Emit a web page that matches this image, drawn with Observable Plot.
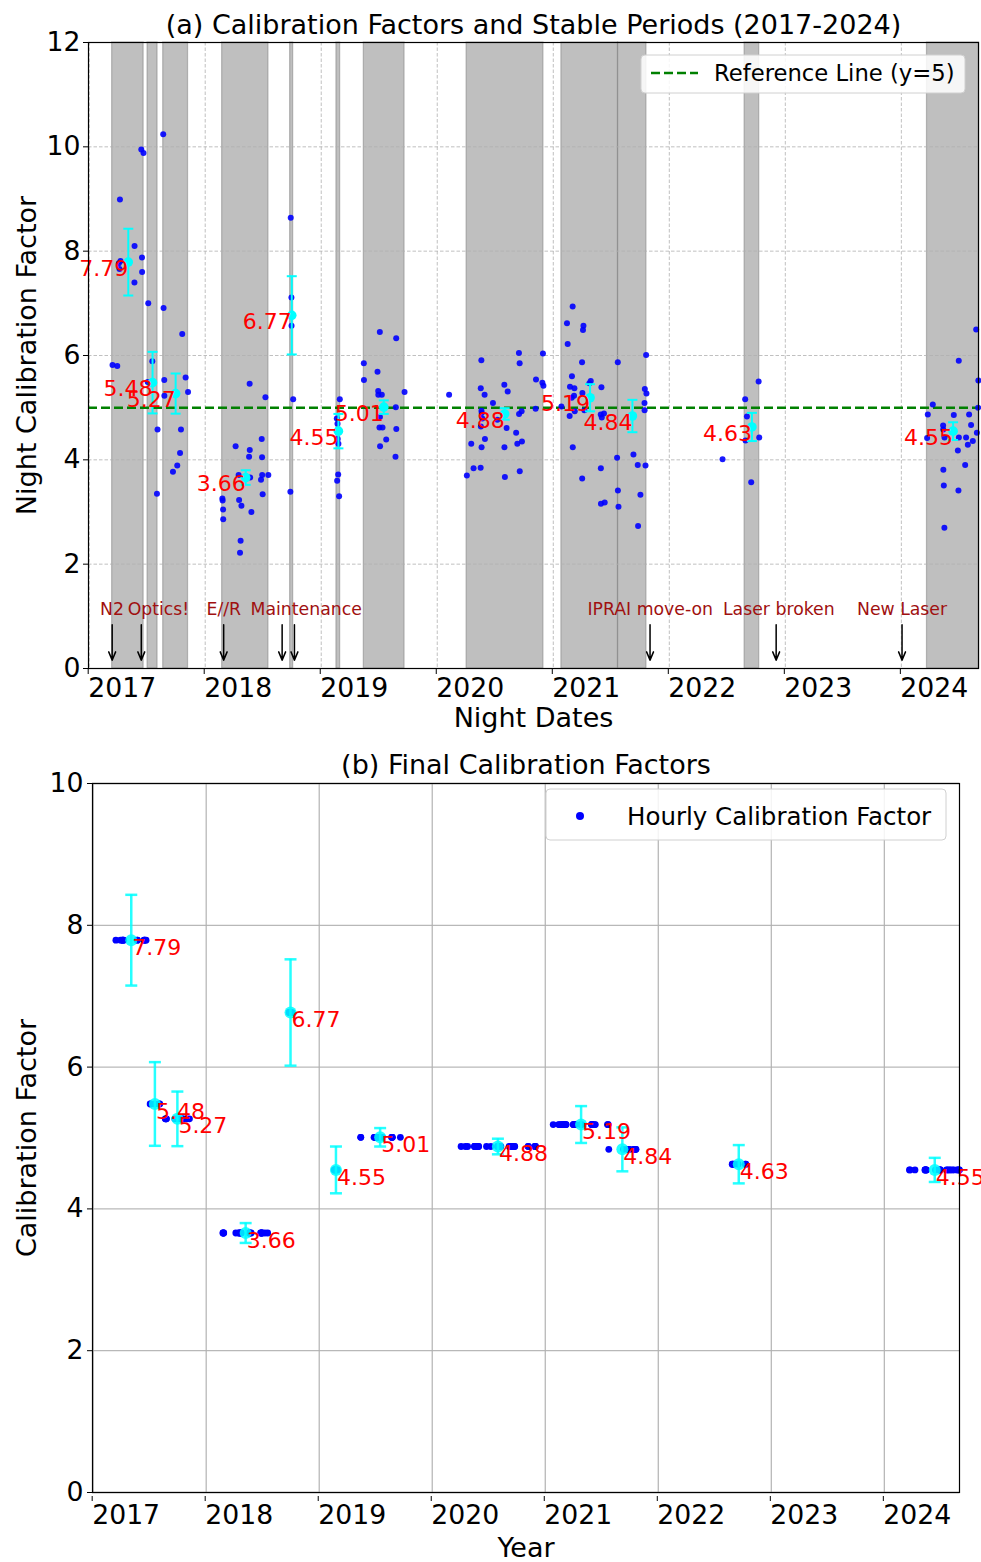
<!DOCTYPE html>
<html><head><meta charset="utf-8">
<script src="https://cdn.jsdelivr.net/npm/d3@7"></script>
<script src="https://cdn.jsdelivr.net/npm/@observablehq/plot@0.6"></script>
<style>
body{margin:0;background:#fff;font-family:"DejaVu Sans",sans-serif;}
#wrap{width:981px;}
svg{display:block;}
</style></head><body><div id="wrap"></div>
<script>
// ---------- DATA ----------
// nightly calibration factors (decimal year, value)
const nightYear = [
 2017.201,2017.242,2017.256,2017.270,2017.261,2017.265,2017.391,2017.390,2017.449,2017.468,2017.455,2017.456,
 2017.509,2017.544,2017.504,2017.584,2017.589,2017.638,2017.641,2017.647,2017.648,2017.722,2017.759,2017.783,
 2017.791,2017.802,2017.831,2017.852,
 2018.148,2018.150,2018.154,2018.155,2018.262,2018.288,2018.292,2018.312,2018.305,2018.300,2018.378,2018.383,
 2018.384,2018.387,2018.398,2018.481,2018.487,2018.490,2018.491,2018.495,2018.519,2018.544,2018.734,2018.737,
 2018.743,2018.744,2018.758,
 2019.134,2019.140,2019.142,2019.148,2019.146,2019.137,2019.154,2019.160,
 2019.367,2019.368,2019.485,2019.491,2019.492,2019.505,2019.506,2019.502,2019.528,2019.522,2019.507,2019.560,
 2019.643,2019.646,2019.647,2019.640,2019.718,
 2020.102,2020.255,2020.293,2020.313,2020.374,2020.375,2020.376,2020.380,2020.381,2020.382,2020.383,2020.388,
 2020.408,2020.411,2020.480,2020.518,2020.578,2020.579,2020.583,2020.598,2020.607,2020.680,2020.690,2020.704,
 2020.705,2020.710,2020.711,2020.727,2020.730,2020.848,2020.851,2020.906,2020.911,2020.915,
 2021.070,2021.118,2021.124,2021.141,2021.144,2021.159,2021.161,2021.167,2021.168,2021.179,2021.182,2021.185,
 2021.248,2021.249,2021.251,2021.256,2021.260,2021.268,2021.311,2021.323,2021.409,2021.410,2021.411,2021.415,
 2021.418,2021.437,2021.443,2021.550,2021.556,2021.557,2021.562,2021.691,2021.728,2021.731,2021.751,2021.786,
 2021.787,2021.789,2021.795,2021.800,2021.803,
 2022.459,2022.654,2022.657,2022.669,2022.706,2022.770,2022.775,
 2024.222,2024.228,2024.271,2024.360,2024.361,2024.362,2024.366,2024.371,2024.372,2024.452,2024.487,2024.492,
 2024.495,2024.496,2024.550,2024.558,2024.573,2024.584,2024.601,2024.616,2024.645,2024.651,2024.662,2024.664
];
const nightValue = [
 5.82,5.80,7.77,7.81,7.66,8.99,8.10,7.40,9.95,9.88,7.88,7.60,
 7.00,5.89,5.49,3.35,4.58,10.24,6.91,5.53,5.23,3.77,3.89,4.13,
 4.58,6.41,5.58,5.30,
 3.26,3.22,3.05,2.86,4.26,3.71,3.23,3.12,2.45,2.22,4.06,5.46,
 4.19,3.66,3.00,3.62,4.40,4.05,3.71,3.34,5.20,3.71,3.39,8.64,
 7.11,6.57,5.16,
 4.79,4.69,4.40,4.31,3.72,3.60,3.30,5.16,
 5.85,5.53,5.69,5.32,5.25,6.45,4.82,4.62,4.62,5.25,4.26,4.39,
 5.01,6.33,4.59,4.06,5.30,
 5.25,3.70,4.31,3.84,3.85,5.37,4.64,5.91,4.94,4.24,4.90,4.79,
 5.25,4.40,5.09,4.77,5.44,4.24,3.67,4.61,5.31,4.52,4.31,6.05,
 4.88,5.85,3.78,4.93,4.35,4.98,5.54,5.48,6.04,5.42,
 5.02,6.62,6.22,4.84,5.40,5.19,5.60,6.94,4.24,5.23,5.37,4.93,
 5.87,3.64,5.28,6.49,6.57,4.95,5.47,5.51,4.87,3.84,3.16,5.39,
 4.81,4.89,3.18,4.04,5.87,3.41,3.10,4.10,3.90,2.73,3.33,5.09,
 4.95,5.36,3.89,6.01,5.27,
 4.01,5.16,4.37,4.83,3.57,5.50,4.43,
 4.42,4.87,5.06,4.66,4.58,3.81,3.51,2.70,4.43,4.86,4.18,3.41,
 5.90,4.43,3.90,4.43,4.29,4.87,4.67,4.36,6.50,4.52,5.00,5.52
];

// stable periods
const periodStart = [2017.198,2017.503,2017.638,2018.146,2018.732,2019.131,2019.367,2020.253,2021.070,2021.558,2022.649,2024.221];
const periodEnd   = [2017.469,2017.589,2017.852,2018.545,2018.758,2019.163,2019.718,2020.915,2021.558,2021.803,2022.775,2024.670];
const periodMid   = [2017.337,2017.546,2017.745,2018.349,2018.746,2019.148,2019.539,2020.581,2021.317,2021.682,2022.712,2024.446];
const periodMean  = [7.79,5.48,5.27,3.66,6.77,4.55,5.01,4.88,5.19,4.84,4.63,4.55];
const periodStd   = [0.64,0.59,0.385,0.14,0.75,0.33,0.13,0.11,0.26,0.31,0.27,0.17];

// events
const eventText  = ["N2","Optics!","E//R","Maintenance","IPRAI move-on","Laser broken","New Laser"];
const eventTextX = [2017.196,2017.597,2018.160,2018.870,2021.836,2022.944,2024.006];
const arrowX     = [2017.198,2017.449,2018.159,2018.663,2018.769,2021.834,2022.921,2024.006];

const years = [2017,2018,2019,2020,2021,2022,2023,2024];
const refLine = 5;

// ---------- TABLES ----------
const nights = nightYear.map((t,i)=>({t, v: nightValue[i]}));
const periods = periodMean.map((m,i)=>({start: periodStart[i], end: periodEnd[i], mid: periodMid[i], mean: m, std: periodStd[i], label: m.toFixed(2)}));
const hourly = [];
nights.forEach(n=>{
  const p = periods.find(p=> n.t >= p.start && n.t <= p.end);
  if (p) hourly.push({t: n.t, v: p.mean});
});
const events = eventText.map((s,i)=>({s, x: eventTextX[i]}));
const arrows = arrowX.map(x=>({x}));

const FONT = "DejaVu Sans";
const capSymbol = () => ({ draw(ctx, size){ const r = Math.sqrt(size/Math.PI); ctx.moveTo(-r,0); ctx.lineTo(r,0);} });
const xDomain = [2016.994, 2024.665];

// ---------- TOP PANEL ----------
const chartA = Plot.plot({
  width: 981, height: 735,
  marginTop: 42, marginBottom: 67, marginLeft: 88, marginRight: 3,
  style: {fontFamily: FONT, background: "white", overflow: "visible"},
  x: {domain: xDomain},
  y: {domain: [0, 12]},
  marks: [
    Plot.rectY(periods, {x1: "start", x2: "end", y1: 0, y2: 12, fill: "#808080", fillOpacity: 0.5, stroke: "#808080", strokeOpacity: 0.5, strokeWidth: 1.2}),
    Plot.gridX(years, {stroke: "#b0b0b0", strokeOpacity: 0.8, strokeDasharray: "3.5,2", strokeWidth: 1}),
    Plot.gridY([2,4,6,8,10], {stroke: "#b0b0b0", strokeOpacity: 0.8, strokeDasharray: "3.5,2", strokeWidth: 1}),
    Plot.ruleY([refLine], {stroke: "green", strokeWidth: 2.5, strokeDasharray: "9,4"}),
    Plot.dot(nights, {x: "t", y: "v", r: 3, fill: "blue", fillOpacity: 0.9, stroke: "none"}),
    Plot.ruleX(periods, {x: "mid", y1: d=>d.mean-d.std, y2: d=>d.mean+d.std, stroke: "cyan", strokeWidth: 2}),
    Plot.dot(periods, {x: "mid", y: d=>d.mean+d.std, symbol: capSymbol(), r: 5, stroke: "cyan", strokeWidth: 2, fill: "none"}),
    Plot.dot(periods, {x: "mid", y: d=>d.mean-d.std, symbol: capSymbol(), r: 5, stroke: "cyan", strokeWidth: 2, fill: "none"}),
    Plot.dot(periods, {x: "mid", y: "mean", r: 4.8, fill: "cyan", stroke: "none"}),
    Plot.text(periods, {x: "mid", y: "mean", text: "label", fill: "red", fontSize: 22, textAnchor: "end", lineAnchor: "top", dy: -2}),
    Plot.arrow(arrows, {x1: "x", x2: "x", y1: 0.84, y2: 0.16, stroke: "black", strokeWidth: 1.5, headLength: 9, headAngle: 45}),
    Plot.text(events, {x: "x", y: 1.13, text: "s", fill: "#a01010", fontSize: 17.3}),
    Plot.frame({stroke: "black", strokeWidth: 1.2}),
    Plot.axisX({ticks: years, tickFormat: d=>String(d), tickSize: 5, fontSize: 26.7, textAnchor: "start", dx: -1, dy: 1, label: null}),
    Plot.axisY({ticks: [0,2,4,6,8,10,12], tickSize: 5, tickPadding: 3, fontSize: 26.7, label: null}),
    Plot.text(["(a) Calibration Factors and Stable Periods (2017-2024)"], {frameAnchor: "top", lineAnchor: "middle", dy: -17, fontSize: 27, fill: "black"}),
    Plot.text(["Night Dates"], {frameAnchor: "bottom", lineAnchor: "middle", dy: 50, fontSize: 27, fill: "black"}),
    Plot.text(["Night Calibration Factor"], {frameAnchor: "left", textAnchor: "middle", lineAnchor: "middle", dx: -61, rotate: -90, fontSize: 27, fill: "black"})
  ]
});

// ---------- BOTTOM PANEL ----------
const chartB = Plot.plot({
  width: 981, height: 827,
  marginTop: 48, marginBottom: 70, marginLeft: 92, marginRight: 22,
  style: {fontFamily: FONT, background: "white", overflow: "visible"},
  x: {domain: xDomain},
  y: {domain: [0, 10]},
  marks: [
    Plot.gridX(years, {stroke: "#b0b0b0", strokeOpacity: 0.9, strokeWidth: 1.3}),
    Plot.gridY([0,2,4,6,8,10], {stroke: "#b0b0b0", strokeOpacity: 0.9, strokeWidth: 1.3}),
    Plot.dot(hourly, {x: "t", y: "v", r: 3.4, fill: "blue", stroke: "none"}),
    Plot.ruleX(periods, {x: "mid", y1: d=>d.mean-d.std, y2: d=>d.mean+d.std, stroke: "cyan", strokeWidth: 2.5, strokeOpacity: 0.85}),
    Plot.dot(periods, {x: "mid", y: d=>d.mean+d.std, symbol: capSymbol(), r: 6, stroke: "cyan", strokeOpacity: 0.85, strokeWidth: 2.5, fill: "none"}),
    Plot.dot(periods, {x: "mid", y: d=>d.mean-d.std, symbol: capSymbol(), r: 6, stroke: "cyan", strokeOpacity: 0.85, strokeWidth: 2.5, fill: "none"}),
    Plot.dot(periods, {x: "mid", y: "mean", r: 6, fill: "cyan", fillOpacity: 0.85, stroke: "none"}),
    Plot.text(periods, {x: "mid", y: "mean", text: "label", fill: "red", fontSize: 22, textAnchor: "start", lineAnchor: "top", dx: 1, dy: -1}),
    Plot.frame({stroke: "black", strokeWidth: 1.2}),
    Plot.axisX({ticks: years, tickFormat: d=>String(d), tickSize: 5, fontSize: 26.7, textAnchor: "start", dx: -1, dy: 4, label: null}),
    Plot.axisY({ticks: [0,2,4,6,8,10], tickSize: 5, tickPadding: 4, fontSize: 26.7, label: null}),
    Plot.text(["(b) Final Calibration Factors"], {frameAnchor: "top", lineAnchor: "middle", dy: -18, fontSize: 27, fill: "black"}),
    Plot.text(["Year"], {frameAnchor: "bottom", lineAnchor: "middle", dy: 56, fontSize: 27, fill: "black"}),
    Plot.text(["Calibration Factor"], {frameAnchor: "left", textAnchor: "middle", lineAnchor: "middle", dx: -65, rotate: -90, fontSize: 27, fill: "black"})
  ]
});

const wrap = document.getElementById("wrap");
wrap.appendChild(chartA);
wrap.appendChild(chartB);

// ---------- LEGENDS ----------
{
  const g = d3.select(chartA).append("g").attr("font-family", FONT).attr("text-anchor", "start");
  g.append("rect").attr("x", 641).attr("y", 55).attr("width", 324).attr("height", 38).attr("rx", 4)
    .attr("fill", "white").attr("fill-opacity", 0.85).attr("stroke", "#d0d0d0");
  g.append("line").attr("x1", 651).attr("x2", 698).attr("y1", 73).attr("y2", 73)
    .attr("stroke", "green").attr("stroke-width", 2.5).attr("stroke-dasharray", "9,4");
  g.append("text").attr("x", 714).attr("y", 73).attr("dy", "0.35em").attr("text-anchor", "start").attr("font-size", 22.7).text("Reference Line (y=5)");
}
{
  const g = d3.select(chartB).append("g").attr("font-family", FONT).attr("text-anchor", "start");
  g.append("rect").attr("x", 546).attr("y", 54).attr("width", 400).attr("height", 51).attr("rx", 4)
    .attr("fill", "white").attr("fill-opacity", 0.85).attr("stroke", "#d0d0d0");
  g.append("circle").attr("cx", 580).attr("cy", 81).attr("r", 4).attr("fill", "blue");
  g.append("text").attr("x", 627).attr("y", 81).attr("dy", "0.35em").attr("text-anchor", "start").attr("font-size", 24.5).text("Hourly Calibration Factor");
}
</script></body></html>
